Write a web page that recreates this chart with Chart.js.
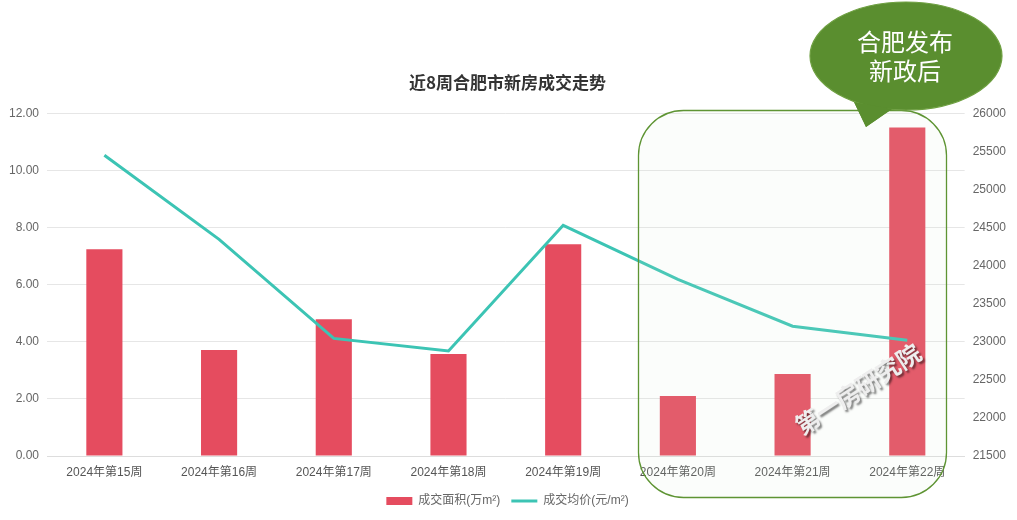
<!DOCTYPE html>
<html>
<head>
<meta charset="utf-8">
<script src="https://cdn.jsdelivr.net/npm/chart.js@4/dist/chart.umd.min.js"></script>
<style>
  html, body { margin: 0; padding: 0; background: #fff; }
  #wrap { width: 1017px; height: 520px; }
</style>
</head>
<body>
<div id="wrap"><canvas id="myChart" width="1017" height="520"></canvas></div>
<script>
// 近8周合肥市新房成交走势
const weeks = [
  "2024年第15周", "2024年第16周", "2024年第17周", "2024年第18周",
  "2024年第19周", "2024年第20周", "2024年第21周", "2024年第22周",
];
const areaValues = [7.24, 3.71, 4.79, 3.57, 7.42, 2.1, 2.87, 11.51]; // 万m²
const priceValues = [25450, 24345, 23045, 22880, 24530, 23820, 23205, 23020]; // 元/m²
const leftTicks = { min: 0, max: 12, step: 2 };
const rightTicks = { min: 21500, max: 26000, step: 500 };

const FONT = "'Liberation Sans', 'Noto Sans CJK SC', sans-serif";
Chart.defaults.font.family = FONT;
Chart.defaults.color = "#666";

// 高亮框、气泡、水印
const notes = {
  id: "notes",
  afterDatasetsDraw(chart) {
    const ctx = chart.ctx;
    ctx.save();
    // 圆角框
    ctx.beginPath();
    ctx.roundRect(638.5, 110.5, 308, 387, 45);
    ctx.fillStyle = "rgba(215,235,214,0.1)";
    ctx.fill();
    ctx.lineWidth = 1.3;
    ctx.strokeStyle = "#5e9433";
    ctx.stroke();

    // 水印
    ctx.save();
    ctx.translate(858, 389);
    ctx.rotate(-33 * Math.PI / 180);
    ctx.font = "bold 24px 'Noto Sans CJK SC', sans-serif";
    ctx.textAlign = "center";
    ctx.textBaseline = "middle";
    ctx.shadowColor = "rgba(0,0,0,0.5)";
    ctx.shadowOffsetX = 2;
    ctx.shadowOffsetY = 2;
    ctx.shadowBlur = 2;
    ctx.fillStyle = "#eeeeee";
    ctx.fillText("第一房研究院", 0, 0);
    ctx.restore();

    // 气泡
    const tail = () => {
      ctx.beginPath();
      ctx.moveTo(854, 102);
      ctx.lineTo(866, 127);
      ctx.lineTo(892, 109);
      ctx.closePath();
    };
    ctx.fillStyle = "#5a8e2f";
    tail();
    ctx.fill();
    ctx.beginPath();
    ctx.ellipse(906, 56, 96, 54, 0, 0, Math.PI * 2);
    ctx.fill();
    ctx.lineWidth = 1.2;
    ctx.strokeStyle = "#6fa042";
    ctx.stroke();
    tail();
    ctx.fill();
    ctx.fillStyle = "#fff";
    ctx.font = "24px 'Noto Sans CJK SC', sans-serif";
    ctx.textAlign = "center";
    ctx.textBaseline = "middle";
    ctx.fillText("合肥发布", 905, 42);
    ctx.fillText("新政后", 905, 71);
    ctx.restore();
  },
};

new Chart(document.getElementById("myChart"), {
  type: "bar",
  data: {
    labels: weeks,
    datasets: [
      {
        type: "line",
        label: "成交均价(元/m²)",
        data: priceValues,
        yAxisID: "y1",
        borderColor: "#3cc4b4",
        backgroundColor: "#3cc4b4",
        borderWidth: 3,
        pointRadius: 0,
        tension: 0,
        pointStyle: "line",
        order: 1,
      },
      {
        type: "bar",
        label: "成交面积(万m²)",
        data: areaValues,
        yAxisID: "y",
        backgroundColor: "#e54c5f",
        borderWidth: 0,
        barPercentage: 0.315,
        categoryPercentage: 1,
        pointStyle: "rect",
        order: 2,
      },
    ],
  },
  options: {
    responsive: false,
    animation: false,
    layout: { padding: { left: 1, right: 3, top: 0, bottom: 3 } },
    plugins: {
      title: {
        display: true,
        text: "近8周合肥市新房成交走势",
        color: "#333",
        font: { size: 17, weight: "bold", family: "'Noto Sans CJK SC', sans-serif" },
        padding: { top: 72, bottom: 21 },
      },
      legend: {
        position: "bottom",
        reverse: true,
        labels: {
          usePointStyle: true,
          pointStyleWidth: 26,
          boxHeight: 8,
          padding: 11,
          color: "#666",
          font: { size: 12 },
        },
      },
      tooltip: { enabled: false },
    },
    scales: {
      x: {
        grid: { display: false },
        border: { color: "#ddd" },
        ticks: { color: "#555", font: { size: 12, lineHeight: 1.0 }, padding: 3, maxRotation: 0 },
        afterFit: (scale) => { scale.height += 2; },
      },
      y: {
        position: "left",
        min: leftTicks.min,
        max: leftTicks.max,
        ticks: {
          stepSize: leftTicks.step,
          color: "#666",
          font: { size: 12 },
          padding: 8,
          callback: (v) => v.toFixed(2),
        },
        grid: { color: "#e6e6e6", drawTicks: false },
        border: { display: false },
      },
      y1: {
        position: "right",
        min: rightTicks.min,
        max: rightTicks.max,
        ticks: {
          stepSize: rightTicks.step,
          color: "#666",
          font: { size: 12 },
          padding: 8,
          callback: (v) => String(v),
        },
        grid: { drawOnChartArea: false, drawTicks: false },
        border: { display: false },
      },
    },
  },
  plugins: [notes],
});
</script>
</body>
</html>
